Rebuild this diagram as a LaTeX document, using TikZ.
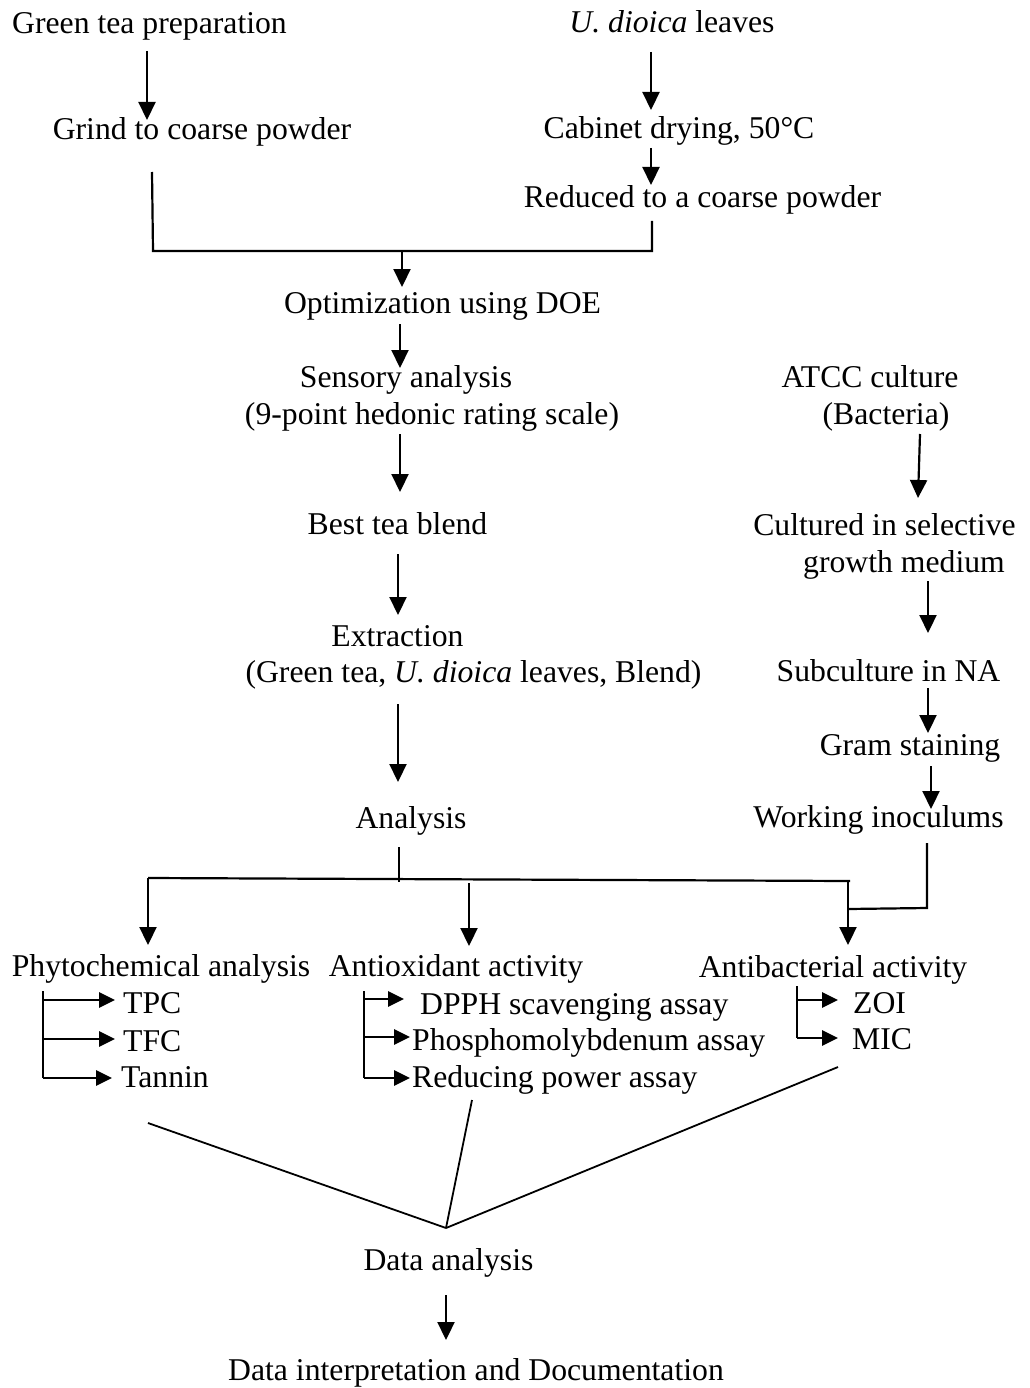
\documentclass[tikz,border=0pt]{standalone}
\usepackage{fontspec}
\setmainfont{Liberation Serif}
\usepackage{tikz}
\usetikzlibrary{arrows.meta}

\begin{document}
\begin{tikzpicture}[
    x=1pt, y=-1pt,
    txt/.style={inner sep=0pt, anchor=base, font=\fontsize{31.7}{38}\selectfont},
    item/.style={txt, anchor=base west},
    arrow/.style={-{Triangle[length=18pt, width=17pt]}, line width=2.2pt},
    link/.style={line width=2.2pt},
    subarrow/.style={-{Triangle[length=16pt, width=15pt]}, line width=2.8pt},
    bracket/.style={line width=1.6pt},
    merge/.style={line width=1.8pt}
]
\useasboundingbox (0,0) rectangle (1029,1388);

% Tea side
\node[txt] (gtp) at (149.5,34) {Green tea preparation};
\node[txt] (grind) at (202,140) {Grind to coarse powder};
\node[txt] (udl) at (672,33) {\textit{U. dioica} leaves};
\node[txt] (cab) at (679,139) {Cabinet drying, 50°C};
\node[txt] (red) at (702.5,208) {Reduced to a coarse powder};
\draw[arrow] ([yshift=-17pt]gtp.base -| 147,0) -- ([yshift=20pt]grind.base -| 147,0);
\draw[arrow] ([yshift=-19pt]udl.base -| 651,0) -- ([yshift=29pt]cab.base -| 651,0);
\draw[arrow] ([yshift=-9pt]cab.base -| 651,0) -- ([yshift=23pt]red.base -| 651,0);

% Join of both powders
\coordinate (joinL) at (153,251);
\coordinate (joinR) at (652,251);
\coordinate (joinM) at (402,251);
\draw[link] ([yshift=-32pt]grind.base -| 152,0) -- (joinL) -- (joinR) -- ([yshift=-13pt]red.base -| 652,0);

\node[txt] (opt) at (442.5,313) {Optimization using DOE};
\node[txt] (sens) at (406,387) {Sensory analysis};
\node[txt] (sensb) at (432,424) {(9-point hedonic rating scale)};
\node[txt] (best) at (397.5,534) {Best tea blend};
\node[txt] (extr) at (397.5,646) {Extraction};
\node[txt] (extrb) at (473.5,682) {(Green tea, \textit{U. dioica} leaves, Blend)};
\node[txt] (ana) at (411,828) {Analysis};
\draw[arrow] (joinM) -- ([yshift=26pt]opt.base -| joinM);
\draw[arrow] ([yshift=-11pt]opt.base -| 400,0) -- ([yshift=19pt]sens.base -| 400,0);
\draw[arrow] ([yshift=-10pt]sensb.base -| 400,0) -- ([yshift=42pt]best.base -| 400,0);
\draw[arrow] ([yshift=-20pt]best.base -| 398,0) -- ([yshift=31pt]extr.base -| 398,0);
\draw[arrow] ([yshift=-22pt]extrb.base -| 398,0) -- ([yshift=46pt]ana.base -| 398,0);

% Bacteria side
\node[txt] (atcc) at (870,387) {ATCC culture};
\node[txt] (bact) at (886,424) {(Bacteria)};
\node[txt] (cult) at (884.5,535) {Cultured in selective};
\node[txt] (grow) at (904,572) {growth medium};
\node[txt] (sub) at (888.5,681) {Subculture in NA};
\node[txt] (gram) at (910,755) {Gram staining};
\node[txt] (work) at (878.5,827) {Working inoculums};
\draw[arrow] ([yshift=-10pt]bact.base -| 920,0) -- ([yshift=37pt]cult.base -| 918,0);
\draw[arrow] ([yshift=-9pt]grow.base -| 928,0) -- ([yshift=48pt]sub.base -| 928,0);
\draw[arrow] ([yshift=-7pt]sub.base -| 928,0) -- ([yshift=22pt]gram.base -| 928,0);
\draw[arrow] ([yshift=-11pt]gram.base -| 931,0) -- ([yshift=18pt]work.base -| 931,0);

% Branch to the three analyses
\coordinate (busL) at (148,878);
\coordinate (busR) at (850,881);
\coordinate (joinW) at (927,908);
\coordinate (joinB) at (848,909);
\draw[link] ([yshift=-19pt]ana.base -| 399,0) -- ([yshift=-4pt]busL -| 399,0);
\draw[link] (busL) -- (busR);
\draw[link] ([yshift=-16pt]work.base -| 927,0) -- (joinW) -- (joinB);

\node[txt] (phyto) at (161,976) {Phytochemical analysis};
\node[txt] (antiox) at (456,976) {Antioxidant activity};
\node[txt] (antibac) at (833,977) {Antibacterial activity};
\draw[arrow] (busL) -- ([yshift=31pt]phyto.base -| busL);
\draw[arrow] ([yshift=-5pt]busL -| 469,0) -- ([yshift=30pt]antiox.base -| 469,0);
\draw[arrow] (busR -| 848,0) -- ([yshift=32pt]antibac.base -| 848,0);

% Sub items
\node[item] (tpc) at (123,1013) {TPC};
\node[item] (tfc) at (123,1051) {TFC};
\node[item] (tan) at (121,1087) {Tannin};
\node[item] (dpph) at (420,1014) {DPPH scavenging assay};
\node[item] (phos) at (412,1050) {Phosphomolybdenum assay};
\node[item] (redp) at (412,1087) {Reducing power assay};
\node[item] (zoi) at (853,1013) {ZOI};
\node[item] (mic) at (852,1049) {MIC};

\draw[bracket] ([yshift=-15pt]phyto.base -| 43,0) -- ([yshift=9pt]tan.base -| 43,0);
\draw[subarrow] ([yshift=13pt]tpc.base -| 43,0) -- ([xshift=-8pt,yshift=13pt]tpc.base west);
\draw[subarrow] ([yshift=12pt]tfc.base -| 43,0) -- ([xshift=-8pt,yshift=12pt]tfc.base west);
\draw[subarrow] ([yshift=9pt]tan.base -| 43,0) -- ([xshift=-9pt,yshift=9pt]tan.base west);

\draw[bracket] ([yshift=-15pt]antiox.base -| 364,0) -- ([yshift=9pt]redp.base -| 364,0);
\draw[subarrow] ([yshift=15pt]dpph.base -| 364,0) -- ([xshift=-16pt,yshift=15pt]dpph.base west);
\draw[subarrow] ([yshift=13pt]phos.base -| 364,0) -- ([xshift=-2pt,yshift=13pt]phos.base west);
\draw[subarrow] ([yshift=9pt]redp.base -| 364,0) -- ([xshift=-2pt,yshift=9pt]redp.base west);

\draw[bracket] ([yshift=-9pt]antibac.base -| 797,0) -- ([yshift=11pt]mic.base -| 797,0);
\draw[subarrow] ([yshift=13pt]zoi.base -| 797,0) -- ([xshift=-15pt,yshift=13pt]zoi.base west);
\draw[subarrow] ([yshift=11pt]mic.base -| 797,0) -- ([xshift=-14pt,yshift=11pt]mic.base west);

% Data analysis
\coordinate (meet) at (446,1228);
\draw[merge] ([yshift=-36pt]tan.base -| 148,0) -- (meet);
\draw[merge] ([yshift=-13pt]redp.base -| 472,0) -- (meet);
\draw[merge] ([yshift=-18pt]mic.base -| 838,0) -- (meet);

\node[txt] (data) at (448.5,1270) {Data analysis};
\node[txt] (doc) at (476,1380) {Data interpretation and Documentation};
\draw[arrow] ([yshift=-25pt]data.base -| 446,0) -- ([yshift=40pt]doc.base -| 446,0);

\end{tikzpicture}
\end{document}
